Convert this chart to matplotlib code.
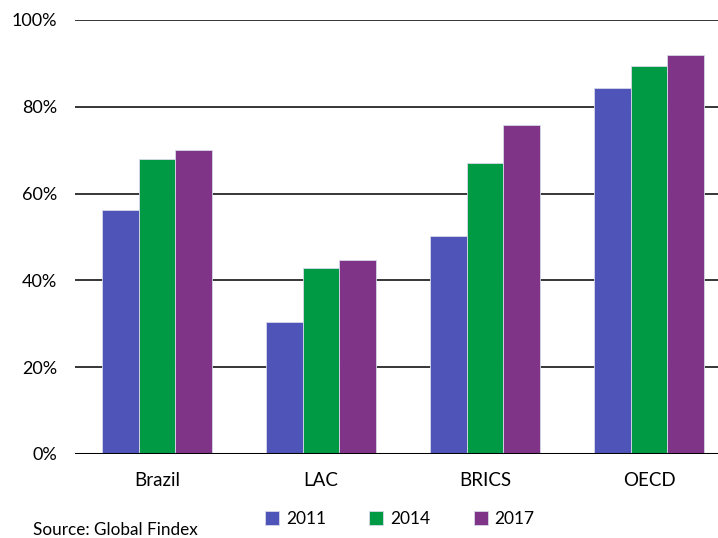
import matplotlib.pyplot as plt
import numpy as np

plt.rcParams['font.family'] = ['Lato', 'DejaVu Sans']

categories = ["Brazil", "LAC", "BRICS", "OECD"]
years = ["2011", "2014", "2017"]
vals_2011 = [56.2, 30.4, 50.2, 84.3]
vals_2014 = [68.0, 42.9, 67.0, 89.4]
vals_2017 = [70.1, 44.7, 75.8, 91.9]
colors = ["#4F55B8", "#009A44", "#7F3488"]

fig = plt.figure(figsize=(7.18, 5.38), dpi=100)
ax = fig.add_axes([75 / 718, 1 - 454 / 538, 656 / 718, 434 / 538])

x = np.arange(len(categories))
w = 0.224
series = [vals_2011, vals_2014, vals_2017]
handles = []
for i, (vals, c) in enumerate(zip(series, colors)):
    b = ax.bar(x + (i - 1) * w, vals, w, color=c, edgecolor="#d8d8e8",
               linewidth=0.6, zorder=3, label=years[i])
    handles.append(b)

ax.set_xlim(-0.5, 3.5)
ax.set_ylim(0, 100)
ax.set_yticks([0, 20, 40, 60, 80, 100])
ax.set_yticklabels([f"{v}%" for v in range(0, 101, 20)], fontsize=13)
ax.set_xticks(x)
ax.set_xticklabels(categories, fontsize=13.5)
ax.tick_params(axis="both", length=0)
ax.tick_params(axis="y", pad=13)
ax.tick_params(axis="x", pad=13)
for y in [20, 40, 60, 80, 100]:
    ax.axhline(y, color="black", linewidth=1.1, zorder=1)
ax.axhline(0, color="black", linewidth=2.2, zorder=4)
for s in ax.spines.values():
    s.set_visible(False)

fig.legend(handles=handles, labels=years, loc="center", ncol=3,
           bbox_to_anchor=(400 / 718, 1 - 519 / 538), frameon=False,
           fontsize=12.5, handlelength=0.8, handleheight=0.8,
           columnspacing=2.5, handletextpad=0.4)
fig.text(33 / 718, 1 - 530 / 538, "Source: Global Findex", fontsize=12.3,
         va="center", ha="left")

fig.savefig("out.png", dpi=100)
